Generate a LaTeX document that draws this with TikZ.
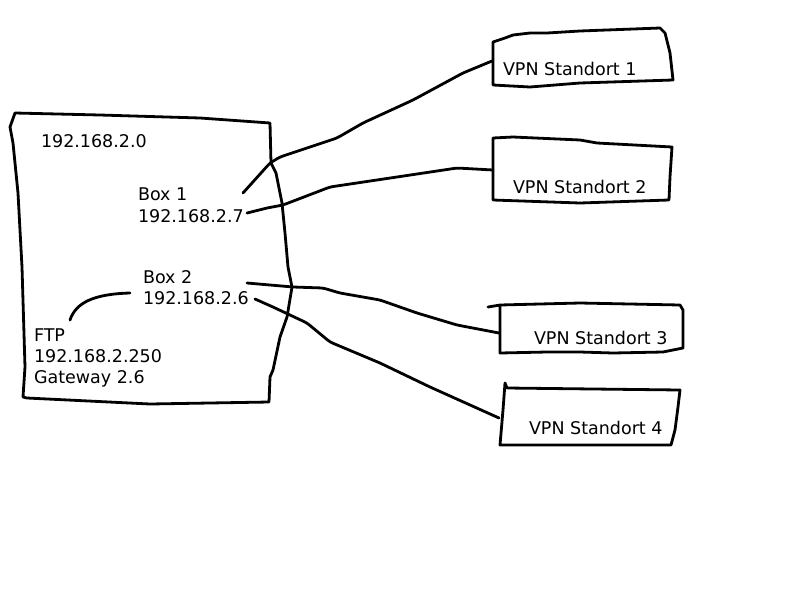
\documentclass[tikz,border=0pt]{standalone}
\usepackage{fontspec}
\setmainfont{DejaVu Sans}
\begin{document}
\begin{tikzpicture}[x=1pt,y=-1pt,
  ink/.style={line width=2.8pt,line join=round,line cap=round,black},
  wire/.style={ink,rounded corners=3pt},
  lbl/.style={anchor=base west,inner sep=0pt,outer sep=0pt,font=\fontsize{17.5}{21}\selectfont}]
\useasboundingbox (0,0) rectangle (800,600);
% network area
\draw[ink] (15,113) -- (100,115) -- (200,118) -- (270,123) -- (271,163) -- (276,173) -- (282,203)
  -- (285,233) -- (288,267) -- (292,287) -- (287,317) -- (280,337) -- (273,370)
  -- (270,377) -- (269,402) -- (150,404) -- (27,398) -- (23,397) -- (25,367) -- (22,267)
  -- (18,193) -- (13,143) -- (10,127) -- cycle;
% VPN site boxes
\draw[ink] (493,42) -- (505,38) -- (513,35) -- (530,33) -- (547,33) -- (580,31) -- (660,28)
  -- (665,33) -- (670,53) -- (673,80) -- (580,83) -- (530,87) -- (493,85) -- cycle;
\draw[ink] (493,138) -- (513,137) -- (580,140) -- (597,143) -- (672,147) -- (670,177)
  -- (669,200) -- (580,203) -- (493,200) -- cycle;
\draw[ink] (488,307) -- (500,305) -- (580,303) -- (680,305) -- (683,310) -- (683,348)
  -- (663,352) -- (613,353) -- (580,352) -- (547,352) -- (500,353) -- (500,305);
\draw[ink] (505,383) -- (507,388) -- (680,390) -- (678,407) -- (675,430) -- (671,445)
  -- (500,445) -- (503,410) -- cycle;
% labels
\node[lbl] (net) at (41,147) {192.168.2.0};
\node[lbl] (box1) at (138,200) {Box 1};
\node[lbl] (ip1) at (138,222) {192.168.2.7};
\node[lbl] (box2) at (143,283) {Box 2};
\node[lbl] (ip2) at (143,304) {192.168.2.6};
\node[lbl] (ftp) at (34,341) {FTP};
\node[lbl] (ftpip) at (34,362) {192.168.2.250};
\node[lbl] (gw) at (34,383) {Gateway 2.6};
\node[lbl] (v1) at (503,75) {VPN Standort 1};
\node[lbl] (v2) at (513,193) {VPN Standort 2};
\node[lbl] (v3) at (534,344) {VPN Standort 3};
\node[lbl] (v4) at (529,434) {VPN Standort 4};
% connector ends
\coordinate (b1a) at (243,193);
\coordinate (b1b) at (247,213);
\coordinate (b2a) at (247,283);
\coordinate (b2b) at (255,299);
\coordinate (fa) at (70,320);
\coordinate (fb) at (130,293);
\coordinate (v1w) at (492,61);
\coordinate (v2w) at (493,170);
\coordinate (v3w) at (499,333);
\coordinate (v4w) at (499,418);
% connectors
\draw[wire] (b1a) -- (270,163) -- (280,157) -- (307,148) -- (337,138) -- (363,123)
  -- (413,100) -- (463,73) -- (v1w);
\draw[wire] (b1b) -- (267,208) -- (283,205) -- (330,187) -- (397,177) -- (457,168) -- (v2w);
\draw[wire] (b2a) -- (293,287) -- (323,288) -- (340,293) -- (380,300) -- (417,313)
  -- (457,325) -- (v3w);
\draw[wire] (b2b) -- (273,307) -- (307,323) -- (330,342) -- (380,363) -- (430,387) -- (v4w);
\draw[ink] (fa) .. controls (76,302) and (95,294) .. (fb);
\end{tikzpicture}
\end{document}
